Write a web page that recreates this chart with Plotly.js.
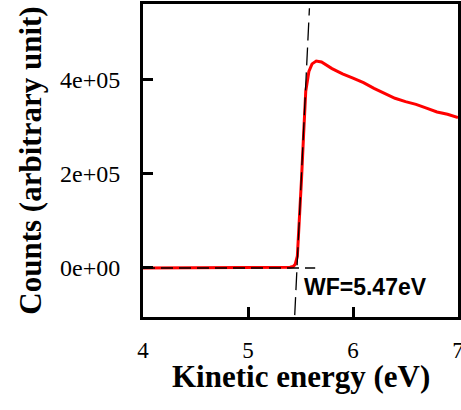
<!DOCTYPE html>
<html>
<head>
<meta charset="utf-8">
<script src="https://cdn.plot.ly/plotly-3.0.1.min.js"></script>
<style>html,body{margin:0;padding:0;background:#fff;}#chart{width:461px;height:410px;}</style>
</head>
<body>
<div id="chart"></div>
<script>
// Measured spectrum (kinetic energy in eV vs counts)
const energy = [4.0, 4.5, 5.0, 5.3, 5.40, 5.43, 5.45, 5.47, 5.49, 5.51, 5.53, 5.55, 5.58, 5.61, 5.65, 5.70, 5.80, 5.90, 6.0, 6.1, 6.2, 6.3, 6.4, 6.5, 6.6, 6.7, 6.8, 6.9, 7.0];
const counts = [0, 0, 0, 500, 1500, 3000, 8000, 25000, 100000, 190000, 285000, 375000, 417000, 433000, 439000, 437000, 423000, 412000, 403000, 393000, 381000, 370000, 360000, 353000, 347000, 339000, 331000, 326000, 319000];

// Linear extrapolation lines (tangent to edge and baseline)
const tangentX = [5.445, 5.585];
const tangentY = [-100000, 551000];
const baseX = [4.0, 5.64];
const baseY = [0, 0];

const xTickVals = [4, 5, 6, 7];
const xTickText = ["4", "5", "6", "7"];
const yTickVals = [0, 200000, 400000];
const yTickText = ["0e+00", "2e+05", "4e+05"];

const xTitle = "Kinetic energy (eV)";
const yTitle = "Counts (arbitrary unit)";
const wfLabel = "WF=5.47eV";
const wfPos = [6.116, -40300];

const traces = [
  {x: energy, y: counts, type: 'scatter', mode: 'lines',
   line: {color: '#ff0000', width: 3}, hoverinfo: 'skip'},
  {x: baseX, y: baseY, type: 'scatter', mode: 'lines',
   line: {color: '#000000', width: 1.3, dash: '12px,6px'}, hoverinfo: 'skip'},
  {x: tangentX, y: tangentY, type: 'scatter', mode: 'lines',
   line: {color: '#000000', width: 1.3, dash: '18px,7px'}, hoverinfo: 'skip'}
];

const serif = 'Liberation Serif, Times New Roman, serif';
const layout = {
  width: 461, height: 410,
  margin: {l: 143, r: 3, t: 4, b: 93},
  paper_bgcolor: '#ffffff', plot_bgcolor: '#ffffff',
  showlegend: false,
  xaxis: {
    range: [4, 7], tickvals: xTickVals, ticktext: xTickText,
    ticks: 'inside', ticklen: 10, tickwidth: 3, tickcolor: '#000',
    showline: true, linewidth: 3, linecolor: '#000', mirror: true,
    showgrid: false, zeroline: false,
    tickfont: {family: serif, size: 23, color: '#000'},
    ticklabelstandoff: 10, ticklabeloverflow: 'allow'
  },
  yaxis: {
    range: [-104000, 560000], tickvals: yTickVals, ticktext: yTickText,
    ticks: 'inside', ticklen: 10, tickwidth: 3, tickcolor: '#000',
    showline: true, linewidth: 3, linecolor: '#000', mirror: true,
    showgrid: false, zeroline: false,
    tickfont: {family: serif, size: 24, color: '#000'},
    ticklabelstandoff: 15, ticklabeloverflow: 'allow',
    title: {text: yTitle, font: {family: serif, size: 31, color: '#000', weight: 'bold'}, standoff: 10}
  },
  annotations: [{
    x: wfPos[0], y: wfPos[1], xref: 'x', yref: 'y', text: wfLabel, showarrow: false,
    font: {family: 'Liberation Sans, Arial, sans-serif', size: 23, color: '#000', weight: 'bold'},
    xanchor: 'center', yanchor: 'middle'
  }, {
    x: 0.5, y: -0.128, xref: 'paper', yref: 'paper', text: xTitle, showarrow: false,
    font: {family: serif, size: 31, color: '#000', weight: 'bold'},
    xanchor: 'center', yanchor: 'top'
  }]
};

Plotly.newPlot('chart', traces, layout, {displayModeBar: false, staticPlot: true});
</script>
</body>
</html>
